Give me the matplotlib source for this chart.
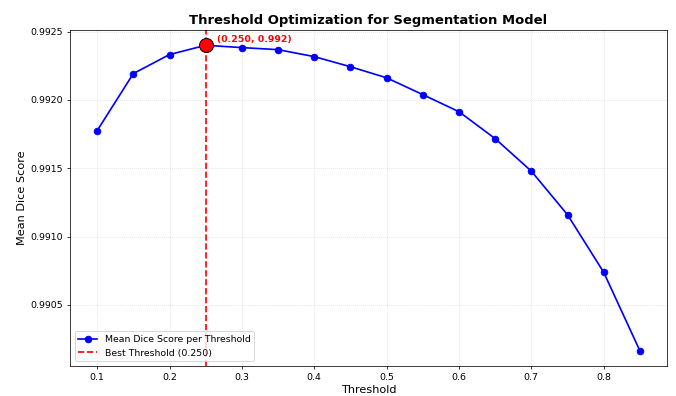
import numpy as np
import matplotlib
matplotlib.use("Agg")
import matplotlib.pyplot as plt

# threshold sweep results
thresholds = [0.10, 0.15, 0.20, 0.25, 0.30, 0.35, 0.40, 0.45,
              0.50, 0.55, 0.60, 0.65, 0.70, 0.75, 0.80, 0.85]
mean_dice = [0.991775, 0.992193, 0.992332, 0.992400, 0.992383, 0.992368,
             0.992317, 0.992243, 0.992162, 0.992039, 0.991914, 0.991717,
             0.991479, 0.991160, 0.990739, 0.990165]

best_idx = int(np.argmax(mean_dice))
best_t = thresholds[best_idx]
best_d = mean_dice[best_idx]

fig = plt.figure(figsize=(10, 396 / 67.6), dpi=67.6)
plt.plot(thresholds, mean_dice, marker='o', color='blue', linewidth=1.8, markersize=7,
         label='Mean Dice Score per Threshold')
plt.axvline(best_t, color='red', linestyle='--', linewidth=1.8, label=f'Best Threshold ({best_t:.3f})')
plt.plot(best_t, best_d, 'o', color='red', markersize=15, markeredgecolor='black')
plt.annotate(f'({best_t:.3f}, {best_d:.3f})', (best_t, best_d),
             textcoords='offset points', xytext=(12, 3),
             color='red', fontsize=10, fontweight='bold')
plt.title('Threshold Optimization for Segmentation Model', fontsize=14, fontweight='bold')
plt.xlabel('Threshold', fontsize=12)
plt.ylabel('Mean Dice Score', fontsize=12)
plt.grid(True, linestyle=':', alpha=0.5)
plt.legend(loc='lower left')
plt.subplots_adjust(left=70 / 676, right=667 / 676, top=1 - 30 / 396, bottom=1 - 366 / 396)
plt.savefig('out.png', dpi=67.6)
